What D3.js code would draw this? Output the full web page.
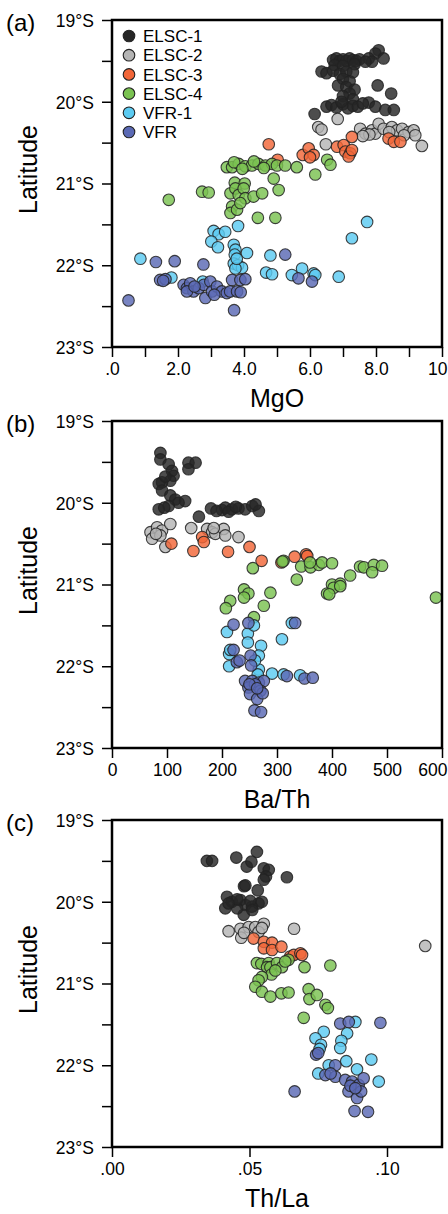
<!DOCTYPE html>
<html>
<head>
<meta charset="utf-8">
<script src="https://cdn.jsdelivr.net/npm/d3@7"></script>
<style>
  body { margin: 0; background: #fff; }
  text { font-family: "Liberation Sans", Arial, sans-serif; fill: #000; }
</style>
</head>
<body>
<div id="chart"></div>
<script>
// groups, drawn in this order
const groups = ["ELSC-1", "ELSC-2", "ELSC-3", "ELSC-4", "VFR-1", "VFR"];
const colors = ["#262626", "#b4b4b4", "#f26638", "#7ac251", "#5ccbf2", "#5a69b4"];

// panel (a): [MgO, latitude]
const mgoElsc1 = [[6.7,19.49],[6.8,19.47],[6.9,19.5],[7.0,19.48],[7.1,19.5],[7.2,19.47],[7.3,19.49],[7.4,19.5],[7.5,19.48],
  [6.75,19.55],[7.0,19.56],[7.35,19.54],[6.35,19.63],[6.5,19.65],[6.7,19.62],[6.9,19.66],[7.1,19.63],[7.3,19.64],
  [7.0,19.72],[7.2,19.75],[6.85,19.8],[7.1,19.82],[7.35,19.85],[7.2,19.9],[7.0,19.93],[7.3,19.97],
  [6.5,20.06],[6.65,20.04],[6.8,20.07],[7.0,20.03],[7.15,20.08],[7.3,20.05],[7.45,20.06],[6.95,20.0],
  [8.08,19.37],[7.98,19.41],[7.78,19.47],[7.88,19.51],[8.23,19.47],[7.68,19.51],[8.05,19.8],[8.46,19.9],[6.14,20.15],
  [7.78,20.01],[7.98,20.06],[8.28,20.1],[8.54,20.1],[7.6,20.02]];
const mgoElsc2 = [[6.84,20.21],[6.25,20.31],[6.35,20.34],[6.48,20.52],[7.52,20.33],[7.68,20.39],[7.88,20.35],[7.98,20.39],
  [8.08,20.27],[8.23,20.33],[8.48,20.31],[8.64,20.35],[8.79,20.33],[8.99,20.37],[9.14,20.35],[9.19,20.41],[9.39,20.54],
  [7.8,20.4],[8.4,20.37],[8.85,20.41],[7.6,20.42]];
const mgoElsc3 = [[4.75,20.52],[5.02,20.71],[5.78,20.65],[5.96,20.57],[6.11,20.65],[6.0,20.68],[6.82,20.55],[7.02,20.53],
  [7.07,20.61],[7.22,20.63],[7.17,20.67],[7.27,20.59],[7.27,20.43],[8.38,20.45],[8.54,20.49],[8.74,20.49]];
const mgoElsc4 = [[3.48,20.8],[3.64,20.8],[3.84,20.76],[4.04,20.79],[4.24,20.78],[4.44,20.76],[4.65,20.78],[4.85,20.76],
  [5.0,20.78],[3.7,20.74],[4.3,20.73],[4.6,20.81],[3.95,20.82],[5.25,20.78],[5.6,20.8],[6.16,20.89],[6.52,20.71],
  [6.62,20.77],[3.72,20.99],[4.02,21.0],[4.9,20.94],[1.72,21.2],[2.73,21.1],[2.93,21.11],[3.59,21.12],[3.74,21.06],
  [3.84,21.14],[3.99,21.06],[4.04,21.18],[4.29,21.16],[4.55,21.12],[5.05,21.08],[3.64,21.28],[3.59,21.36],[3.79,21.32],
  [3.89,21.24],[4.42,21.42],[4.95,21.42]];
const mgoVfr1 = [[0.86,21.92],[1.8,22.15],[3.82,21.52],[3.08,21.58],[3.23,21.62],[3.43,21.59],[3.01,21.71],[3.21,21.78],
  [3.69,21.75],[3.74,21.81],[3.72,21.87],[4.09,21.85],[3.69,21.98],[3.82,22.0],[3.94,22.03],[3.74,22.04],[4.8,21.88],
  [4.67,22.09],[4.85,22.11],[5.45,22.12],[5.76,22.04],[6.11,22.1],[6.16,22.12],[6.87,22.14],[7.27,21.67],[7.73,21.47],
  [2.75,22.2],[3.78,21.92]];
const mgoVfr = [[0.5,22.43],[1.33,21.96],[1.9,21.95],[2.77,21.99],[1.46,22.18],[1.62,22.17],[1.55,22.19],[5.25,21.87],
  [5.65,22.16],[6.06,22.2],[3.64,22.18],[3.89,22.18],[4.04,22.17],[2.17,22.24],[2.27,22.28],[2.37,22.22],[2.47,22.32],
  [2.63,22.28],[2.78,22.24],[2.83,22.4],[2.98,22.2],[3.03,22.32],[3.18,22.26],[3.33,22.32],[3.48,22.34],[3.58,22.32],
  [3.79,22.32],[2.27,22.32],[3.7,22.55],[3.9,22.33],[2.5,22.26],[3.1,22.36]];

// panel (b): [Ba/Th, latitude]
const bathElsc1 = [[88,19.39],[88,19.47],[103,19.53],[109,19.61],[112,19.67],[106,19.73],[91,19.75],[85,19.77],[91,19.85],
  [106,19.91],[115,19.96],[133,19.98],[121,20.0],[103,20.04],[85,20.08],[95,20.06],[97,19.68],[139,19.51],[152,19.51],
  [139,19.59],[158,20.17],[180,20.07],[200,20.09],[206,20.06],[218,20.08],[230,20.07],[242,20.08],[255,20.04],
  [267,20.1],[261,20.02],[212,20.11],[225,20.05],[190,20.1]];
const bathElsc2 = [[70,20.36],[73,20.44],[82,20.3],[91,20.34],[106,20.26],[88,20.4],[97,20.54],[144,20.31],[173,20.32],
  [182,20.36],[188,20.38],[203,20.32],[206,20.4],[230,20.42],[80,20.38],[185,20.31]];
const bathElsc3 = [[108,20.5],[148,20.59],[164,20.42],[167,20.48],[211,20.6],[250,20.54],[272,20.71],[308,20.73],
  [332,20.66],[353,20.63],[355,20.65]];
const bathElsc4 = [[256,20.8],[312,20.71],[344,20.78],[361,20.79],[376,20.76],[382,20.73],[400,20.74],[336,20.94],
  [451,20.78],[458,20.79],[476,20.76],[491,20.77],[473,20.85],[433,20.89],[400,21.0],[415,20.99],[240,21.06],
  [248,21.11],[240,21.16],[215,21.2],[207,21.29],[288,21.1],[276,21.26],[258,21.4],[391,21.11],[403,21.04],
  [415,21.02],[589,21.16],[310,20.72],[360,20.73],[395,21.12]];
const bathVfr1 = [[209,21.58],[247,21.6],[247,21.71],[258,21.5],[271,21.75],[309,21.67],[213,21.85],[213,22.0],
  [267,21.87],[267,22.04],[291,22.09],[312,22.1],[342,22.11],[327,21.47],[215,21.8],[260,21.93],[265,22.1]];
const bathVfr = [[221,21.49],[248,21.47],[333,21.47],[221,21.8],[227,21.95],[252,21.87],[253,21.99],[242,22.18],
  [255,22.18],[267,22.2],[276,22.18],[248,22.26],[260,22.22],[270,22.3],[251,22.34],[264,22.4],[274,22.33],
  [318,22.12],[350,22.15],[365,22.14],[259,22.54],[271,22.56],[232,21.93],[250,22.22],[264,22.27]];

// panel (c): [Th/La, latitude]
const thlaElsc1 = [[.0345,19.5],[.0364,19.5],[.0452,19.46],[.0527,19.39],[.049,19.57],[.0507,19.51],[.0552,19.59],
  [.057,19.61],[.056,19.69],[.0552,19.73],[.0636,19.7],[.048,19.81],[.0485,19.8],[.053,19.86],[.0418,19.94],
  [.0412,20.08],[.0436,20.0],[.0467,19.98],[.0485,20.04],[.0509,20.06],[.0533,20.02],[.0479,20.16],[.0455,20.08],
  [.0503,19.99],[.0455,19.97],[.0424,20.02],[.051,20.1],[.0545,20.0]];
const thlaElsc2 = [[.0424,20.36],[.0467,20.33],[.047,20.44],[.0497,20.31],[.0521,20.31],[.0552,20.27],[.0533,20.37],
  [.0662,20.33],[.1139,20.54],[.0545,20.32],[.048,20.38]];
const thlaElsc3 = [[.0515,20.45],[.0552,20.49],[.0582,20.5],[.0552,20.57],[.0582,20.59],[.0616,20.55],[.0648,20.67],
  [.0661,20.65],[.0685,20.63],[.0691,20.65]];
const thlaElsc4 = [[.0527,20.75],[.0543,20.76],[.057,20.75],[.0564,20.8],[.0576,20.8],[.06,20.75],[.0618,20.8],
  [.0642,20.71],[.063,20.73],[.07,20.8],[.0794,20.78],[.058,20.89],[.0545,20.92],[.0533,20.96],[.0594,20.84],
  [.0521,21.04],[.0545,21.1],[.0576,21.16],[.0616,21.12],[.0642,21.11],[.0715,21.07],[.0718,21.19],[.0745,21.14],
  [.0776,21.26],[.0785,21.3],[.0697,21.42]];
const thlaVfr1 = [[.077,21.59],[.074,21.67],[.076,21.75],[.0855,21.61],[.0834,21.7],[.083,21.79],[.0885,21.47],
  [.0852,21.95],[.0943,21.93],[.075,22.1],[.0891,22.05],[.097,22.2],[.0788,22.0],[.0755,21.8]];
const thlaVfr = [[.083,21.49],[.0861,21.47],[.0976,21.48],[.0742,21.87],[.075,21.85],[.0812,22.0],[.0776,22.12],
  [.0812,22.14],[.0848,22.18],[.0873,22.2],[.0897,22.24],[.0915,22.16],[.086,22.32],[.0891,22.4],[.0906,22.32],
  [.0664,22.32],[.0882,22.56],[.0931,22.57],[.0867,22.25],[.0885,22.28],[.0795,22.1]];

// axis ticks
const latTicks = [19, 19.5, 20, 20.5, 21, 21.5, 22, 22.5, 23];
const mgoTicks = [0, 1, 2, 3, 4, 5, 6, 7, 8, 9, 10];
const mgoLabels = {0: ".0", 2: "2.0", 4: "4.0", 6: "6.0", 8: "8.0", 10: "10"};
const bathTicks = [0, 100, 200, 300, 400, 500, 600];
const thlaTicks = [0, 0.05, 0.10];
const thlaLabels = [".00", ".05", ".10"];

const panels = [
  {tag: "(a)", title: "MgO", top: 20, domain: [0, 10], ticks: mgoTicks,
   fmt: d => mgoLabels[d] || "", sets: [mgoElsc1, mgoElsc2, mgoElsc3, mgoElsc4, mgoVfr1, mgoVfr]},
  {tag: "(b)", title: "Ba/Th", top: 421, domain: [0, 600], ticks: bathTicks,
   fmt: d => d, sets: [bathElsc1, bathElsc2, bathElsc3, bathElsc4, bathVfr1, bathVfr]},
  {tag: "(c)", title: "Th/La", top: 820, domain: [0, 0.12], ticks: thlaTicks,
   fmt: (d, i) => thlaLabels[i], sets: [thlaElsc1, thlaElsc2, thlaElsc3, thlaElsc4, thlaVfr1, thlaVfr]}
];

const W = 448, H = 1214;
const left = 112, pw = 330, ph = 327;

const svg = d3.select("#chart").append("svg")
    .attr("width", W)
    .attr("height", H);

panels.forEach((p, pi) => {
    let g = svg.append("g").attr("transform", "translate(" + left + "," + p.top + ")");

    let x = d3.scaleLinear().domain(p.domain).range([0, pw]);
    let y = d3.scaleLinear().domain([19, 23]).range([0, ph]);

    let yAxis = d3.axisLeft(y)
                  .tickValues(latTicks)
                  .tickSize(10)
                  .tickPadding(8)
                  .tickFormat(d => Number.isInteger(d) ? d + "°S" : "");
    let yg = g.append("g").call(yAxis);

    let xAxis = d3.axisBottom(x)
                  .tickValues(p.ticks)
                  .tickSize(10)
                  .tickPadding(6)
                  .tickFormat(p.fmt);
    let xg = g.append("g").attr("transform", "translate(0," + ph + ")").call(xAxis);

    [yg, xg].forEach(a => {
        a.select(".domain").remove();
        a.selectAll("line").attr("stroke", "#000").attr("stroke-width", 1.5);
        a.selectAll("text")
         .style("font-family", "'Liberation Sans', Arial, sans-serif")
         .style("font-size", "17.5px")
         .attr("fill", "#000");
    });
    yg.selectAll("text").attr("dy", "0.36em");

    // last x label at the right edge is pulled inside the page, as in the original
    let lastTick = p.domain[1];
    xg.selectAll(".tick")
      .filter(d => d == lastTick)
      .select("text")
      .attr("text-anchor", "end")
      .attr("x", 5);

    // points
    p.sets.forEach((pts, gi) => {
        g.append("g").selectAll("circle")
         .data(pts)
         .join("circle")
         .attr("cx", d => x(d[0]))
         .attr("cy", d => y(d[1]))
         .attr("r", 5.8)
         .attr("fill", colors[gi])
         .attr("fill-opacity", 0.82)
         .attr("stroke", "#222")
         .attr("stroke-opacity", 0.85)
         .attr("stroke-width", 1.1);
    });

    // frame
    g.append("rect")
     .attr("width", pw)
     .attr("height", ph)
     .attr("fill", "none")
     .attr("stroke", "#000")
     .attr("stroke-width", 2.5);

    // titles
    svg.append("text")
       .attr("x", 6)
       .attr("y", p.top + 11)
       .style("font-size", "24px")
       .text(p.tag);

    svg.append("text")
       .attr("x", left + pw / 2)
       .attr("y", p.top + ph + 60)
       .attr("text-anchor", "middle")
       .style("font-size", "25px")
       .text(p.title);

    svg.append("text")
       .attr("transform", "translate(37," + (p.top + ph / 2 - 14) + ") rotate(-90)")
       .attr("text-anchor", "middle")
       .style("font-size", "25px")
       .text("Latitude");

    // legend only in (a)
    if (pi == 0) {
        let lg = g.append("g");
        groups.forEach((name, i) => {
            lg.append("circle")
              .attr("cx", 17)
              .attr("cy", 16 + i * 19.2)
              .attr("r", 5.8)
              .attr("fill", colors[i])
              .attr("stroke", "#222")
              .attr("stroke-width", 1.1);
            lg.append("text")
              .attr("x", 31)
              .attr("y", 16 + i * 19.2)
              .attr("dy", "0.36em")
              .style("font-size", "17px")
              .text(name);
        });
    }
});
</script>
</body>
</html>
